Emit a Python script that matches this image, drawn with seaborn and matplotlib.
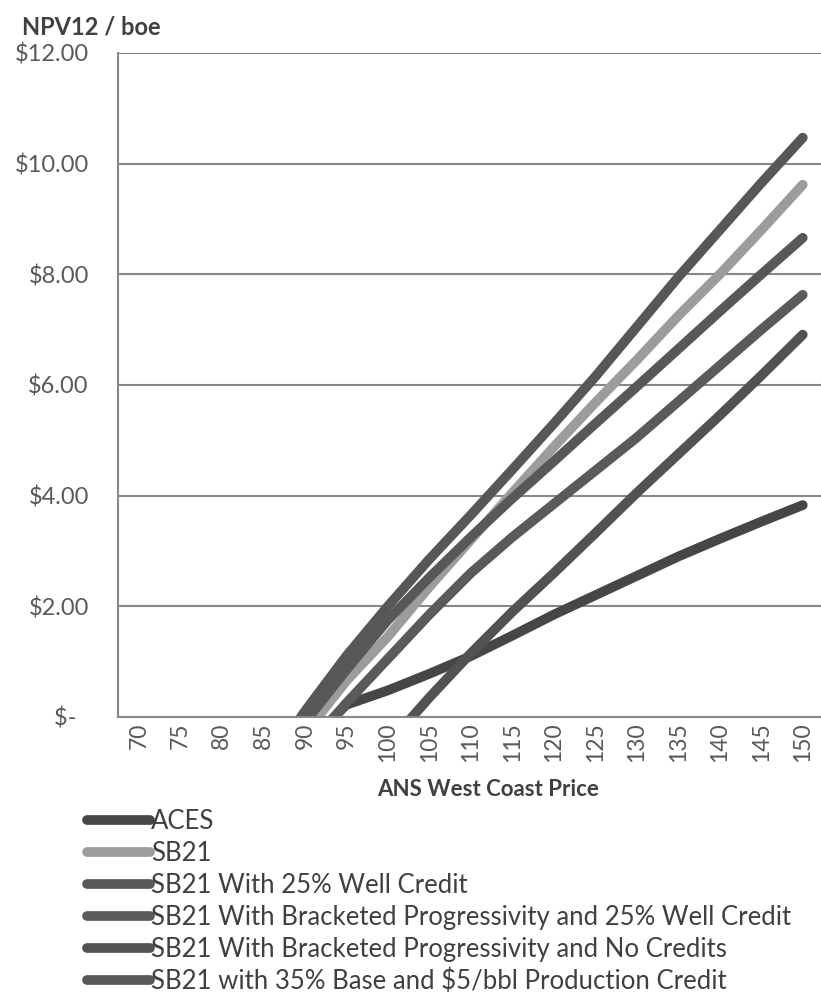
import matplotlib
matplotlib.use("Agg")
import matplotlib.pyplot as plt
import numpy as np
import pandas as pd
import seaborn as sns
from matplotlib.lines import Line2D
from matplotlib.ticker import FixedLocator

# ANS West Coast price categories ($/bbl)
prices = [70, 75, 80, 85, 90, 95, 100, 105, 110, 115, 120, 125, 130, 135, 140, 145, 150]

# NPV12 per boe for each fiscal scheme (values below zero fall off the chart)
aces = [-3.6, -3.0, -2.3, -1.5, -0.55, 0.22, 0.48, 0.78, 1.10, 1.47, 1.85, 2.20, 2.55, 2.90, 3.22, 3.53, 3.83]
sb21 = [-3.5, -2.9, -2.2, -1.2, -0.30, 0.65, 1.45, 2.35, 3.20, 4.05, 4.88, 5.68, 6.45, 7.25, 8.00, 8.80, 9.62]
sb21_well25 = [-3.3, -2.7, -2.0, -1.0, -0.10, 0.85, 1.75, 2.52, 3.25, 3.95, 4.62, 5.30, 5.97, 6.65, 7.33, 8.00, 8.66]
sb21_bracket_well25 = [-3.4, -2.8, -2.1, -1.2, -0.60, 0.25, 1.05, 1.85, 2.60, 3.25, 3.85, 4.45, 5.05, 5.70, 6.35, 7.00, 7.63]
sb21_bracket_none = [-4.4, -3.8, -3.2, -2.5, -1.80, -1.20, -0.50, 0.35, 1.15, 1.90, 2.60, 3.32, 4.05, 4.75, 5.45, 6.17, 6.91]
sb21_base35_prod5 = [-3.4, -2.8, -2.1, -1.0, 0.10, 1.10, 2.00, 2.85, 3.65, 4.47, 5.30, 6.15, 7.05, 7.95, 8.80, 9.65, 10.47]

series_names = [
    "ACES",
    "SB21",
    "SB21 With 25% Well Credit",
    "SB21 With Bracketed Progressivity and 25% Well Credit",
    "SB21 With Bracketed Progressivity and No Credits",
    "SB21 with 35% Base and $5/bbl Production Credit",
]
series_values = [aces, sb21, sb21_well25, sb21_bracket_well25, sb21_bracket_none, sb21_base35_prod5]
series_colors = ["#464646", "#9c9c9c", "#585858", "#5a5a5a", "#525252", "#575757"]

y_ticks = [0, 2, 4, 6, 8, 10, 12]
y_tick_labels = ["$-  ", "$2.00", "$4.00", "$6.00", "$8.00", "$10.00", "$12.00"]

# Long-form table: one row per (scheme, price category)
rows = []
for name, vals in zip(series_names, series_values):
    for i, (p, v) in enumerate(zip(prices, vals)):
        rows.append({"scheme": name, "pos": i, "price": p, "npv": v})
df = pd.DataFrame(rows)

sns.set_theme(style="white")
plt.rcParams["font.family"] = ["Lato", "DejaVu Sans"]

W, H = 821, 994
fig = plt.figure(figsize=(W / 100, H / 100), dpi=100)
ax = fig.add_axes([118 / W, 1 - 717 / H, 705.5 / W, (717 - 53) / H])

grid_c = "#878787"
ax.set_axisbelow(True)
for yv in y_ticks[1:]:
    ax.axhline(yv, color=grid_c, lw=1.5, zorder=0)

palette = dict(zip(series_names, series_colors))
sns.lineplot(
    data=df, x="pos", y="npv", hue="scheme", hue_order=series_names,
    palette=palette, lw=7.0, sort=False, legend=False, ax=ax,
    solid_capstyle="round", solid_joinstyle="round",
)

ax.set_xlim(-0.5, len(prices) - 0.5)
ax.set_ylim(0, 12)

for side in ["top", "right"]:
    ax.spines[side].set_visible(False)
for side in ["left", "bottom"]:
    ax.spines[side].set_color(grid_c)
    ax.spines[side].set_linewidth(1.5)

ax.set_yticks(y_ticks)
ax.set_yticklabels(y_tick_labels)
ax.tick_params(axis="y", direction="out", length=7.5, width=1.5, color=grid_c,
               labelsize=17, labelcolor="#595959", pad=13.5)

ax.set_xticks(range(len(prices)))
ax.set_xticklabels([str(p) for p in prices], rotation=90)
ax.xaxis.set_minor_locator(FixedLocator(np.arange(-0.5, len(prices), 1.0)))
ax.tick_params(axis="x", which="major", length=0, labelsize=16.5, labelcolor="#595959", pad=4)
ax.tick_params(axis="x", which="minor", direction="out", length=6, width=1.5, color=grid_c)
ax.set_xlabel("")
ax.set_ylabel("")

fig.text(22 / W, 1 - 27 / H, "NPV12 / boe", fontsize=17, fontweight="bold",
         color="#404040", ha="left", va="center")
fig.text(488 / W, 1 - 790 / H, "ANS West Coast Price", fontsize=16, fontweight="bold",
         color="#404040", ha="center", va="center")

handles = [Line2D([0], [0], color=c, lw=7.0, solid_capstyle="round") for c in series_colors]
fig.legend(handles, series_names, loc="upper left",
           bbox_to_anchor=(87 / W, 1 - 809 / H), frameon=False,
           fontsize=18.5, labelcolor="#404040", handlelength=2.45, handletextpad=0.05,
           labelspacing=0.27, borderaxespad=0, borderpad=0)

fig.savefig("out.png", dpi=100, facecolor="white")
